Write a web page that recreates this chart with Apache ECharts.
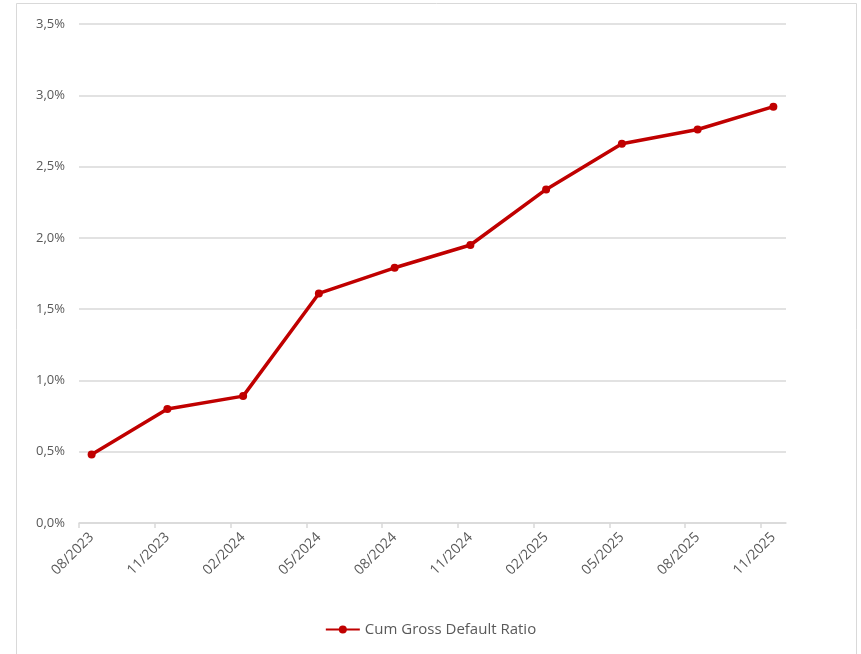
<!DOCTYPE html>
<html>
<head>
<meta charset="utf-8">
<script src="https://cdn.jsdelivr.net/npm/echarts@6/dist/echarts.min.js"></script>
<style>
html,body{margin:0;padding:0;background:#fff;}
#chart{width:861px;height:654px;}
</style>
</head>
<body>
<div id="chart"></div>
<script>
// Quarter-end labels and values (percent)
var quarterLabels = ['08/2023','11/2023','02/2024','05/2024','08/2024','11/2024','02/2025','05/2025','08/2025','11/2025'];
var cumGrossDefault = [0.48, 0.80, 0.89, 1.61, 1.79, 1.95, 2.34, 2.66, 2.76, 2.92];
var seriesName = 'Cum Gross Default Ratio';
var yTicks = [0, 0.5, 1.0, 1.5, 2.0, 2.5, 3.0, 3.5];

// Monthly date axis categories (08/2023 .. 11/2025)
var months = [];
(function(){
  var y = 2023, m = 8;
  while (y < 2025 || (y === 2025 && m <= 11)) {
    months.push((m < 10 ? '0' + m : '' + m) + '/' + y);
    m++; if (m > 12) { m = 1; y++; }
  }
})();
// month boundaries (start of each month slot + closing boundary) for tick marks
var boundaries = months.concat(['end']);

var seriesData = quarterLabels.map(function(l, i){ return [l, cumGrossDefault[i]]; });
var labelSet = {};
quarterLabels.forEach(function(l){ labelSet[l] = true; });

var chart = echarts.init(document.getElementById('chart'));
var font = '"Open Sans", Lato, sans-serif';
chart.setOption({
  animation: false,
  backgroundColor: '#ffffff',
  graphic: [{
    type: 'rect', silent: true, z: -1,
    shape: {x: 16.5, y: 3.5, width: 840, height: 660},
    style: {fill: 'none', stroke: '#d9d9d9', lineWidth: 1}
  }],
  grid: {left: 79, right: 75, top: 24, bottom: 131, containLabel: false},
  legend: {
    bottom: 12, left: 'center',
    itemWidth: 34, itemHeight: 10, itemGap: 4,
    textStyle: {color: '#595959', fontSize: 15, fontFamily: font},
    data: [seriesName]
  },
  xAxis: [{
    type: 'category',
    data: months,
    boundaryGap: true,
    axisLine: {show: true, lineStyle: {color: '#d9d9d9', width: 1.5}},
    axisTick: {show: false},
    axisLabel: {
      interval: function(idx, val){ return labelSet[val] === true; },
      rotate: 45, margin: 12,
      color: '#595959', fontSize: 14, fontFamily: font
    },
    splitLine: {show: false}
  }, {
    type: 'category',
    data: boundaries,
    boundaryGap: false,
    position: 'bottom',
    axisLine: {show: false},
    axisTick: {
      show: true, length: 5,
      interval: function(idx, val){ return labelSet[val] === true; },
      lineStyle: {color: '#d9d9d9', width: 1.5}
    },
    axisLabel: {show: false},
    splitLine: {show: false}
  }],
  yAxis: {
    type: 'value',
    min: 0, max: 3.5, interval: 0.5,
    axisLine: {show: false},
    axisTick: {show: false},
    axisLabel: {
      margin: 14,
      color: '#595959', fontSize: 13, fontFamily: font,
      formatter: function(v){ return v.toFixed(1).replace('.', ',') + '%'; }
    },
    splitLine: {lineStyle: {color: '#d9d9d9', width: 1.5}}
  },
  series: [{
    name: seriesName,
    type: 'line',
    xAxisIndex: 0,
    data: seriesData,
    symbol: 'circle',
    symbolSize: 8,
    lineStyle: {color: '#C00000', width: 3.5},
    itemStyle: {color: '#C00000'}
  }]
});
</script>
</body>
</html>
